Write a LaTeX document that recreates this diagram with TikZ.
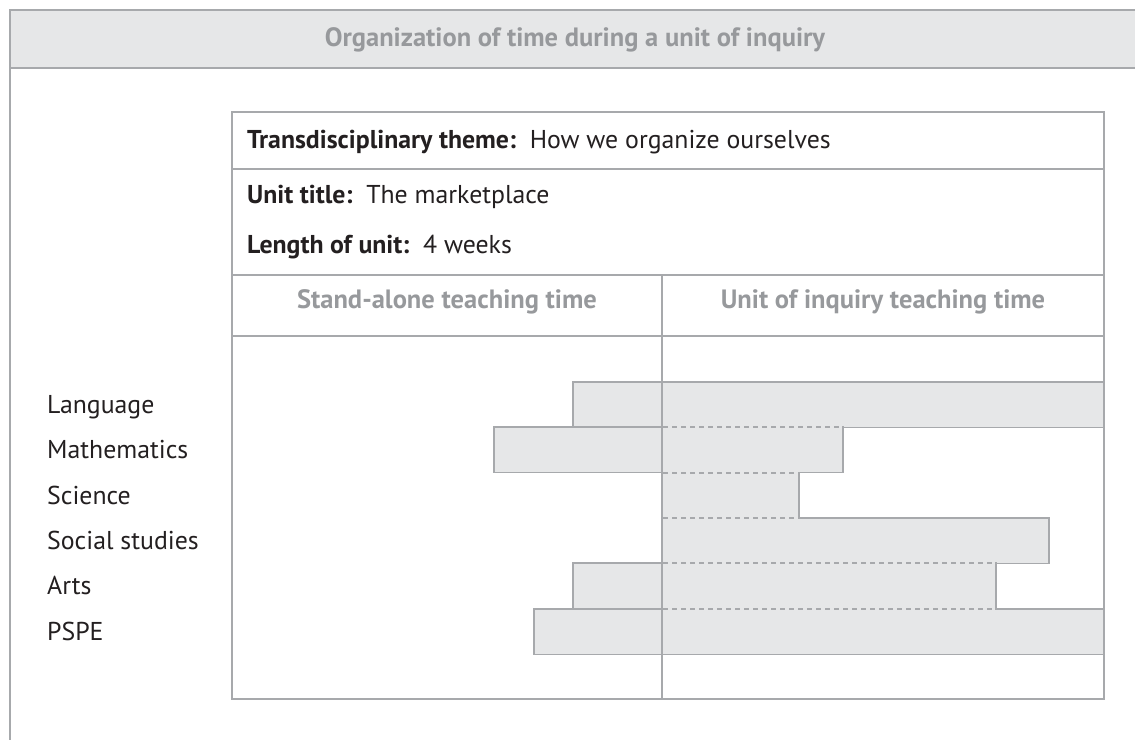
\documentclass[tikz,border=0pt]{standalone}
\usepackage{fontspec}
\setmainfont{PT Sans}
\definecolor{rulegrey}{HTML}{A7A9AC}
\definecolor{bandgrey}{HTML}{E6E7E8}
\definecolor{headgrey}{HTML}{97999C}
\definecolor{inkblack}{HTML}{231F20}
\tikzset{
  rule/.style={draw=rulegrey,line width=1.4pt},
  bar/.style={fill=bandgrey,draw=rulegrey,line width=1.4pt},
  split/.style={draw=rulegrey,line width=1.4pt,dash pattern=on 5pt off 4pt},
  txt/.style={inner sep=0pt,text=inkblack,font=\fontsize{25.8}{28}\selectfont},
  headtxt/.style={inner sep=0pt,text=headgrey,font=\fontsize{26.5}{28}\selectfont\bfseries},
}
\begin{document}
\begin{tikzpicture}[x=1pt,y=-1pt]
  \useasboundingbox (0,0) rectangle (1135,740);
  % title band
  \fill [bandgrey] (10,10) rectangle (1135,68);
  \draw [rule] (1135,10) -- (10,10) -- (10,740);
  \draw [rule] (10,68) -- (1135,68);
  \node [headtxt,anchor=base] (title) at (575,46) {Organization of time during a unit of inquiry};
  % table frame
  \draw [rule] (232,112) rectangle (1104,699);
  \draw [rule] (232,169) -- (1104,169);
  \draw [rule] (232,275) -- (1104,275);
  \draw [rule] (232,336) -- (1104,336);
  \node [txt,anchor=base west] (theme) at (247,148) {\textbf{Transdisciplinary theme:}\ \ How we organize ourselves};
  \node [txt,anchor=base west] (unit) at (247,203) {\textbf{Unit title:}\ \ The marketplace};
  \node [txt,anchor=base west] (length) at (247,253) {\textbf{Length of unit:}\ \ 4 weeks};
  \node [headtxt,anchor=base] (alone) at (447,308) {Stand-alone teaching time};
  \node [headtxt,anchor=base] (inquiry) at (883,308) {Unit of inquiry teaching time};
  % bars: top / left end / right end / subject
  \foreach \y/\l/\r/\name in {382/573/1104/Language,427/494/843/Mathematics,
      473/662/799/Science,518/662/1049/Social studies,563/573/996/Arts,609/534/1104/PSPE}{
    \draw [bar] (\l,\y) rectangle (\r,\y+45.4);
    \node [txt,anchor=base west] at (47,\y+31) {\name};
  }
  % dashed splits on the inquiry side
  \foreach \y/\r in {427/843,473/799,518/799,563/996,609/996}{
    \draw [bandgrey,line width=2pt] (663,\y) -- (\r-1,\y);
    \draw [split] (663,\y) -- (\r-1,\y);
  }
  \draw [rule] (662,275) -- (662,699);
\end{tikzpicture}
\end{document}
